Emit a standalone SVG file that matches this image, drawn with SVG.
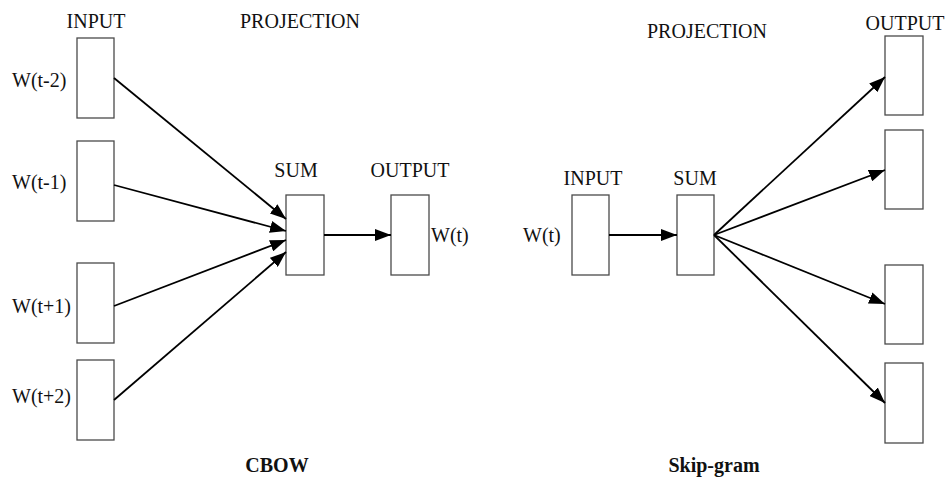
<svg xmlns="http://www.w3.org/2000/svg" width="946" height="477" viewBox="0 0 946 477">
<style>
.box{fill:#fff;stroke:#4a4a4a;stroke-width:1.3}
.c{stroke:#000;stroke-width:1.8;fill:none;marker-end:url(#ah)}
</style>
<defs>
<marker id="ah" markerUnits="userSpaceOnUse" markerWidth="16" markerHeight="12" refX="16" refY="6" orient="auto">
<path d="M0,0 L16,6 L0,12 z" fill="#000"/>
</marker>
</defs>
<rect width="946" height="477" fill="#fff"/>
<g id="labels" fill="#111">
<text x="96" y="28" text-anchor="middle" font-family="Liberation Serif" font-size="20">INPUT</text>
<text x="300" y="28" text-anchor="middle" font-family="Liberation Serif" font-size="20">PROJECTION</text>
<text x="296" y="177" text-anchor="middle" font-family="Liberation Serif" font-size="20">SUM</text>
<text x="410" y="177" text-anchor="middle" font-family="Liberation Serif" font-size="20">OUTPUT</text>
<text x="12" y="87" font-family="Liberation Serif" font-size="20">W(t-2)</text>
<text x="12" y="189" font-family="Liberation Serif" font-size="20">W(t-1)</text>
<text x="12" y="313" font-family="Liberation Serif" font-size="20">W(t+1)</text>
<text x="12" y="403" font-family="Liberation Serif" font-size="20">W(t+2)</text>
<text x="431" y="242" font-family="Liberation Serif" font-size="20">W(t)</text>
<text x="277" y="472" text-anchor="middle" font-weight="bold" font-family="Liberation Serif" font-size="20">CBOW</text>
<text x="707" y="38" text-anchor="middle" font-family="Liberation Serif" font-size="20">PROJECTION</text>
<text x="905" y="30" text-anchor="middle" font-family="Liberation Serif" font-size="20">OUTPUT</text>
<text x="593" y="185" text-anchor="middle" font-family="Liberation Serif" font-size="20">INPUT</text>
<text x="695" y="185" text-anchor="middle" font-family="Liberation Serif" font-size="20">SUM</text>
<text x="523" y="242" font-family="Liberation Serif" font-size="20">W(t)</text>
<text x="714" y="472" text-anchor="middle" font-weight="bold" font-family="Liberation Serif" font-size="20">Skip-gram</text>
</g>
<g id="cbow-in1"><rect class="box" x="77" y="38" width="37" height="80"/></g>
<g id="cbow-in2"><rect class="box" x="77" y="141" width="37" height="80"/></g>
<g id="cbow-in3"><rect class="box" x="77" y="263" width="37" height="80"/></g>
<g id="cbow-in4"><rect class="box" x="77" y="360" width="37" height="80"/></g>
<g id="cbow-sum"><rect class="box" x="286" y="195" width="38" height="80"/></g>
<g id="cbow-out"><rect class="box" x="391" y="195" width="38" height="80"/></g>
<g id="sg-in"><rect class="box" x="572" y="195" width="37" height="80"/></g>
<g id="sg-sum"><rect class="box" x="677" y="195" width="37" height="80"/></g>
<g id="sg-out1"><rect class="box" x="885" y="36" width="38" height="79"/></g>
<g id="sg-out2"><rect class="box" x="885" y="130" width="38" height="79"/></g>
<g id="sg-out3"><rect class="box" x="885" y="265" width="38" height="79"/></g>
<g id="sg-out4"><rect class="box" x="885" y="363" width="38" height="80"/></g>
<g id="connectors">
<line class="c" x1="114" y1="78" x2="286" y2="219"/>
<line class="c" x1="114" y1="185" x2="286" y2="231"/>
<line class="c" x1="114" y1="306" x2="286" y2="240"/>
<line class="c" x1="114" y1="400" x2="286" y2="252"/>
<line class="c" x1="324" y1="235" x2="391" y2="235"/>
<line class="c" x1="609" y1="235" x2="677" y2="235"/>
<line class="c" x1="714" y1="235" x2="885" y2="77"/>
<line class="c" x1="714" y1="235" x2="885" y2="170"/>
<line class="c" x1="714" y1="235" x2="885" y2="304"/>
<line class="c" x1="714" y1="235" x2="885" y2="403"/>
</g>
</svg>
